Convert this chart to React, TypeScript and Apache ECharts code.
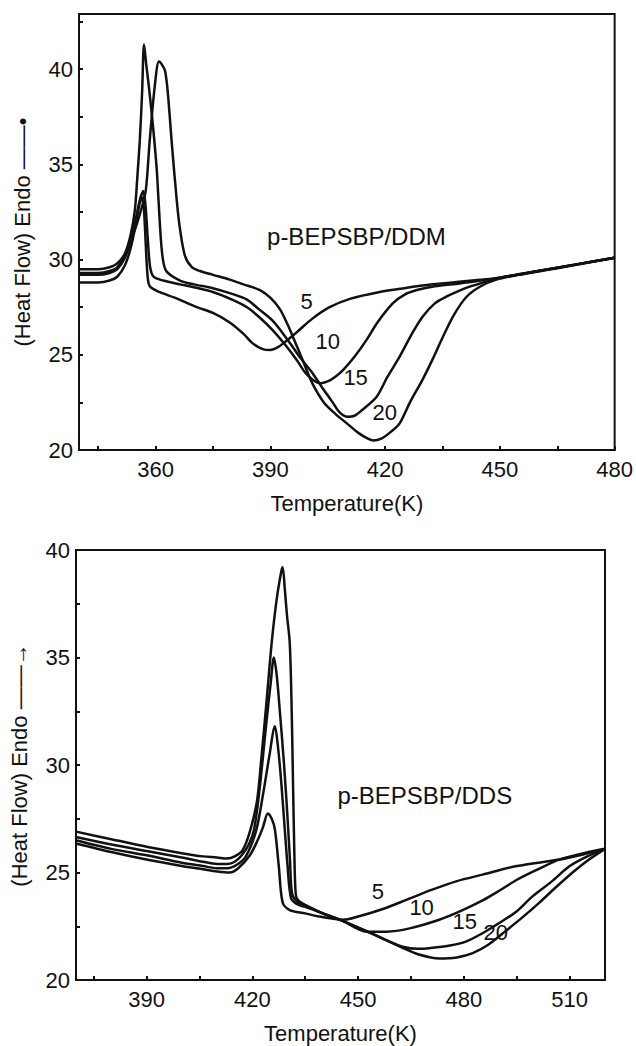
import React, { useEffect, useRef } from "react";
import * as echarts from "echarts";

// ---------- Top panel: p-BEPSBP/DDM ----------
const ddmRate5: [number, number][] = [
  [340, 28.8], [345, 28.8], [348, 28.9], [350, 29.1], [352, 29.7], [353.5, 30.6], [354.8, 31.8],
  [355.7, 32.8], [356.3, 33.3], [356.9, 32.8], [357.4, 31], [357.9, 29.2], [358.5, 28.6], [361, 28.3],
  [365, 28.0], [370.8, 27.5], [375, 27.2], [379.4, 26.7], [383, 26.1], [385.4, 25.6], [388, 25.3],
  [390, 25.25], [392, 25.4], [394, 25.7], [397, 26.2], [401, 26.9], [405.5, 27.5], [411, 27.95],
  [418.6, 28.3], [425, 28.5], [432.4, 28.7], [440, 28.85], [445.5, 28.95], [450, 29.05], [460, 29.4],
  [470, 29.75], [480, 30.1],
];
const ddmRate10: [number, number][] = [
  [340, 29.2], [345, 29.2], [348, 29.3], [350, 29.5], [352, 30.1], [353.5, 31.0], [355, 32.3],
  [356, 33.2], [356.8, 33.6], [357.4, 32.8], [358, 31], [358.6, 29.6], [359.5, 29.1], [362, 28.9],
  [366.4, 28.7], [370, 28.55], [375, 28.3], [380, 27.9], [383.9, 27.5], [387, 27.0], [390.6, 26.3],
  [394, 25.5], [397, 24.7], [399, 24.1], [401, 23.7], [403, 23.5], [405, 23.6], [407, 23.85],
  [409, 24.2], [412, 24.9], [415.2, 25.8], [418, 26.7], [422, 27.7], [425, 28.15], [428.3, 28.4],
  [433, 28.6], [439.5, 28.75], [445, 28.9], [450, 29.05], [460, 29.4], [470, 29.75], [480, 30.1],
];
const ddmRate15: [number, number][] = [
  [340, 29.3], [345, 29.3], [348, 29.4], [350, 29.6], [352, 30.3], [353.5, 31.3], [354.6, 32.6],
  [355.2, 34.2], [355.9, 36.3], [356.5, 38.8], [357, 41.3], [357.6, 40.2], [358.2, 39.2], [359.1, 37.5],
  [359.8, 36], [360.4, 34.5], [361.1, 32], [361.8, 30.2], [362.8, 29.4], [366.4, 28.9], [370, 28.7],
  [375, 28.5], [380, 28.2], [383.9, 27.9], [387, 27.4], [390.6, 26.8], [393, 26.2], [395.9, 25.4],
  [398, 24.8], [401, 24.05], [403.5, 23.3], [406.3, 22.5], [408, 22.0], [410, 21.75], [412, 21.8],
  [414, 22.1], [417.8, 22.8], [420.5, 23.8], [423.8, 24.9], [427, 26.1], [429.8, 27.0], [433, 27.7],
  [436, 28.05], [441, 28.5], [446.5, 28.85], [450, 29.05], [460, 29.4], [470, 29.75], [480, 30.1],
];
const ddmRate20: [number, number][] = [
  [340, 29.5], [345, 29.5], [348, 29.6], [350, 29.8], [352, 30.3], [353.5, 31.0], [355, 31.8],
  [356.5, 32.8], [357.5, 33.7], [358.5, 36.3], [359.8, 39.1], [360.9, 40.4], [361.8, 40.2],
  [362.5, 39.9], [363.2, 38.8], [364.3, 36], [365.6, 33], [366.4, 31.6], [367.7, 30.2], [369.5, 29.6],
  [371.6, 29.4], [375, 29.2], [379.4, 28.95], [383, 28.7], [387.3, 28.4], [390, 28.0], [392.5, 27.4],
  [394.5, 26.6], [396, 25.9], [398.5, 24.7], [401, 23.5], [404, 22.5], [407, 21.9], [410, 21.4],
  [413, 20.9], [415.5, 20.6], [417, 20.5], [419, 20.6], [421.5, 20.95], [423.8, 21.4], [426.5, 22.5],
  [429.8, 23.7], [432.5, 24.8], [435, 25.9], [438, 27.1], [441.3, 28.05], [445, 28.6], [449.1, 28.95],
  [455, 29.2], [465, 29.55], [480, 30.1],
];
const ddmCurveLabels: [number, number, string][] = [
  [399.5, 27.8, "5"], [405, 25.7, "10"], [412.3, 23.8, "15"], [419.9, 21.95, "20"],
];
const ddmTitle: [number, number, string][] = [[412.5, 31.2, "p-BEPSBP/DDM"]];
const ddmXTicks = [345, 360, 375, 390, 405, 420, 435, 450, 465, 480];
const ddmXLabels = [360, 390, 420, 450, 480];
const ddmYTicks = [22.5, 25, 27.5, 30, 32.5, 35, 37.5, 40, 42.5];
const ddmYLabels = [20, 25, 30, 35, 40];

// ---------- Bottom panel: p-BEPSBP/DDS ----------
const ddsRate5: [number, number][] = [
  [370, 26.35], [380, 25.95], [390, 25.6], [400, 25.3], [406, 25.15], [410, 25.05], [413.6, 25.0],
  [416, 25.2], [419.3, 25.8], [421.5, 26.5], [423, 27.1], [424.4, 27.75], [425.5, 27.5], [426.4, 27.0],
  [427.5, 25.3], [428.6, 23.6], [430.6, 23.25], [435, 23.1], [439, 22.95], [445.6, 22.8], [450, 22.95],
  [457, 23.3], [464, 23.75], [471, 24.2], [478, 24.6], [485.3, 24.9], [495, 25.3], [507, 25.6],
  [514, 25.85], [520, 26.1],
];
const ddsRate10: [number, number][] = [
  [370, 26.5], [380, 26.1], [390, 25.8], [400, 25.45], [406, 25.3], [410, 25.2], [413, 25.2],
  [415.5, 25.35], [418, 25.7], [421, 26.9], [423, 28.6], [424.8, 30.4], [426.4, 31.8], [427.3, 30.8],
  [428.2, 29.2], [429.2, 27], [430, 25.3], [431, 23.8], [433, 23.5], [435, 23.4], [440, 23.1],
  [445.6, 22.75], [452.4, 22.25], [458, 22.25], [464.6, 22.4], [473, 22.8], [479, 23.2], [485.3, 23.7],
  [490, 24.15], [494.9, 24.65], [501, 25.15], [507, 25.6], [514, 25.9], [520, 26.1],
];
const ddsRate15: [number, number][] = [
  [370, 26.65], [380, 26.3], [390, 26.0], [400, 25.7], [406, 25.5], [410, 25.4], [413, 25.4],
  [415, 25.5], [417, 25.8], [419, 26.3], [420.5, 27.0], [422, 28.8], [424, 32.0], [425.2, 33.8],
  [426.1, 35.0], [426.9, 34.2], [427.8, 32.5], [429, 30], [430, 27.5], [430.7, 25.5], [431.3, 24.0],
  [433, 23.6], [435, 23.45], [440, 23.1], [445.6, 22.75], [453.3, 22.2], [458, 21.85], [462.6, 21.55],
  [467, 21.45], [471, 21.5], [476, 21.6], [480.7, 21.8], [485, 22.15], [490, 22.65], [495, 23.2],
  [499.5, 23.9], [505, 24.6], [510, 25.3], [515, 25.75], [520, 26.1],
];
const ddsRate20: [number, number][] = [
  [370, 26.9], [380, 26.55], [390, 26.2], [400, 25.9], [406, 25.75], [410, 25.7], [412.8, 25.65],
  [415, 25.75], [417.3, 26.05], [419.3, 26.9], [421.3, 28.3], [422.5, 30.2], [424, 32.9], [425.5, 35.7],
  [426.9, 37.7], [428.2, 39.0], [428.6, 39.2], [429.2, 38.2], [429.8, 37], [430.6, 35.7], [431.1, 33],
  [431.5, 29.5], [431.9, 26], [432.3, 24.0], [433, 23.7], [435, 23.5], [440, 23.1], [445.6, 22.75],
  [453.3, 22.2], [462.6, 21.5], [467, 21.2], [473, 21.0], [478, 21.05], [482.5, 21.25], [487, 21.65],
  [492, 22.3], [496.5, 22.9], [501.4, 23.6], [506, 24.3], [510.8, 25.0], [515, 25.55], [520, 26.1],
];
const ddsCurveLabels: [number, number, string][] = [
  [455.6, 24.1, "5"], [468, 23.35, "10"], [480.2, 22.74, "15"], [489, 22.2, "20"],
];
const ddsTitle: [number, number, string][] = [[468.9, 28.56, "p-BEPSBP/DDS"]];
const ddsXTicks = [375, 390, 405, 420, 435, 450, 465, 480, 495, 510];
const ddsXLabels = [390, 420, 450, 480, 510];
const ddsYTicks = [22.5, 25, 27.5, 30, 32.5, 35, 37.5, 40];
const ddsYLabels = [20, 25, 30, 35, 40];

const INK = "#111111";
const FONT = "Liberation Sans, Arial, Helvetica, sans-serif";

function xAxisFor(grid: number, min: number, max: number, ticks: number[], labels: number[]) {
  return {
    type: "value",
    gridIndex: grid,
    min,
    max,
    name: "Temperature(K)",
    nameLocation: "middle",
    nameGap: 42,
    nameTextStyle: { fontSize: 22, color: INK, fontFamily: FONT },
    axisLine: { show: true, lineStyle: { color: INK, width: 2 } },
    axisTick: { show: true, inside: true, length: 4, customValues: ticks, lineStyle: { color: INK, width: 2 } },
    axisLabel: { show: true, customValues: labels, fontSize: 22, color: INK, margin: 8, fontFamily: FONT },
    splitLine: { show: false },
  };
}

function yAxisFor(grid: number, min: number, max: number, ticks: number[], labels: number[], name: string) {
  return {
    type: "value",
    gridIndex: grid,
    min,
    max,
    name,
    nameLocation: "middle",
    nameRotate: 90,
    nameGap: 46,
    nameTextStyle: { fontSize: 22, color: INK, fontFamily: FONT },
    axisLine: { show: true, lineStyle: { color: INK, width: 2 } },
    axisTick: { show: true, inside: true, length: 4, customValues: ticks, lineStyle: { color: INK, width: 2 } },
    axisLabel: { show: true, customValues: labels, fontSize: 22, color: INK, margin: 6, fontFamily: FONT },
    splitLine: { show: false },
  };
}

function curve(data: [number, number][], grid: number, name: string) {
  return {
    type: "line",
    name,
    xAxisIndex: grid,
    yAxisIndex: grid,
    data,
    showSymbol: false,
    smooth: 0.3,
    lineStyle: { color: INK, width: 2.5 },
    z: 2,
  };
}

function textSeries(data: [number, number, string][], grid: number, size: number) {
  return {
    type: "scatter",
    xAxisIndex: grid,
    yAxisIndex: grid,
    data,
    symbolSize: 1,
    itemStyle: { color: "rgba(255,255,255,0)", opacity: 1 },
    silent: true,
    z: 5,
    label: {
      show: true,
      position: "inside",
      formatter: (p: any) => p.data[2],
      fontSize: size,
      color: INK,
      opacity: 1,
      textBorderWidth: 0,
      fontFamily: FONT,
    },
  };
}

export default function App() {
  const ref = useRef<HTMLDivElement>(null);
  useEffect(() => {
    document.body.style.margin = "0";
    if (!ref.current) return;
    const chart = echarts.init(ref.current, undefined, { renderer: "svg" });
    chart.setOption({
      animation: false,
      backgroundColor: "#ffffff",
      grid: [
        { left: 79, top: 14, width: 536, height: 436, show: true, borderColor: INK, borderWidth: 2, backgroundColor: "transparent" },
        { left: 76, top: 550, width: 529, height: 430, show: true, borderColor: INK, borderWidth: 2, backgroundColor: "transparent" },
      ],
      xAxis: [
        xAxisFor(0, 340, 480, ddmXTicks, ddmXLabels),
        xAxisFor(1, 370, 520, ddsXTicks, ddsXLabels),
      ],
      yAxis: [
        yAxisFor(0, 20, 42.9, ddmYTicks, ddmYLabels, "(Heat Flow) Endo ——•"),
        yAxisFor(1, 20, 40, ddsYTicks, ddsYLabels, "(Heat Flow) Endo ——→"),
      ],
      series: [
        curve(ddmRate5, 0, "DDM 5"),
        curve(ddmRate10, 0, "DDM 10"),
        curve(ddmRate15, 0, "DDM 15"),
        curve(ddmRate20, 0, "DDM 20"),
        textSeries(ddmCurveLabels, 0, 22),
        textSeries(ddmTitle, 0, 24),
        curve(ddsRate5, 1, "DDS 5"),
        curve(ddsRate10, 1, "DDS 10"),
        curve(ddsRate15, 1, "DDS 15"),
        curve(ddsRate20, 1, "DDS 20"),
        textSeries(ddsCurveLabels, 1, 22),
        textSeries(ddsTitle, 1, 24),
      ],
    });
    return () => chart.dispose();
  }, []);
  return <div ref={ref} style={{ width: 636, height: 1046 }} />;
}
